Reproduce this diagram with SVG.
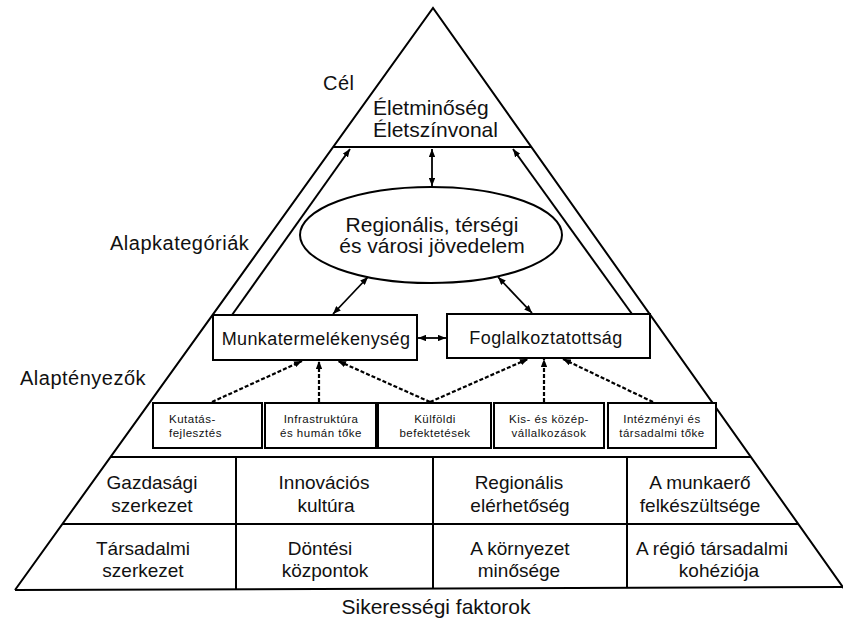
<svg xmlns="http://www.w3.org/2000/svg" width="843" height="621" viewBox="0 0 843 621">
<style>
.ln{fill:none;stroke:#000;stroke-width:2}
.ar{fill:none;stroke:#000;stroke-width:1.8}
.da{fill:none;stroke:#000;stroke-width:2.2;stroke-dasharray:4 2}
.bx{fill:#fff;stroke:#000;stroke-width:2}
text{font-family:"Liberation Sans",Arial,sans-serif;fill:#111}
.lg{font-size:21px}
.lb{font-size:20px;letter-spacing:0.5px}
.md{font-size:18px;letter-spacing:0.4px;text-anchor:middle}
.sm{font-size:11.5px;letter-spacing:0.5px}
.tb{font-size:19px;text-anchor:middle}
.c{text-anchor:middle}
</style>
<defs>
<marker id="ah" viewBox="0 0 10 8" refX="10" refY="4" markerWidth="8" markerHeight="6.4" markerUnits="userSpaceOnUse" orient="auto-start-reverse">
<path d="M0,0 L10,4 L0,8 z" fill="#000"/>
</marker>
</defs>
<g id="pyramid">
<path class="ln" d="M15,590 L433,8 L845,590"/>
<line class="ln" x1="15" y1="590" x2="843" y2="587"/>
<line class="ln" x1="333" y1="147" x2="531" y2="147"/>
<line class="ln" x1="111" y1="457" x2="751" y2="457"/>
<line class="ln" x1="63" y1="524" x2="798" y2="524"/>
<line class="ln" x1="236" y1="457" x2="236" y2="589"/>
<line class="ln" x1="433" y1="457" x2="433" y2="588"/>
<line class="ln" x1="627" y1="457" x2="627" y2="588"/>
</g>
<g id="labels">
<text class="lb" x="323" y="90">Cél</text>
<text class="lb" x="110" y="250">Alapkategóriák</text>
<text class="lb" x="20" y="385">Alaptényezők</text>
<text class="lg c" x="436" y="614">Sikerességi faktorok</text>
</g>
<g id="cel">
<text class="lg" x="373" y="115">Életminőség</text>
<text class="lg" x="373" y="137">Életszínvonal</text>
</g>
<g id="jovedelem">
<ellipse class="bx" cx="431" cy="235" rx="131" ry="48"/>
<text class="lg c" x="432" y="232">Regionális, térségi</text>
<text class="lg c" x="432" y="253">és városi jövedelem</text>
</g>
<g id="munkatermelekenyseg">
<rect class="bx" x="213" y="315" width="204" height="45"/>
<text class="md" x="316" y="345">Munkatermelékenység</text>
</g>
<g id="foglalkoztatottsag">
<rect class="bx" x="447" y="314" width="203" height="44"/>
<text class="md" x="546" y="344">Foglalkoztatottság</text>
</g>
<g id="kutatas">
<rect class="bx" x="153" y="403" width="109" height="45"/>
<text class="sm" x="169" y="423">Kutatás-</text>
<text class="sm" x="169" y="437">fejlesztés</text>
</g>
<g id="infrastruktura">
<rect class="bx" x="265" y="403" width="111" height="45"/>
<text class="sm c" x="321" y="423">Infrastruktúra</text>
<text class="sm c" x="321" y="437">és humán tőke</text>
</g>
<g id="kulfoldi">
<rect class="bx" x="378" y="403" width="113" height="45"/>
<text class="sm c" x="435" y="423">Külföldi</text>
<text class="sm c" x="435" y="437">befektetések</text>
</g>
<g id="kkv">
<rect class="bx" x="494" y="403" width="110" height="45"/>
<text class="sm c" x="549" y="423">Kis- és közép-</text>
<text class="sm c" x="549" y="437">vállalkozások</text>
</g>
<g id="intezmenyi">
<rect class="bx" x="608" y="403" width="108" height="45"/>
<text class="sm c" x="662" y="423">Intézményi és</text>
<text class="sm c" x="662" y="437">társadalmi tőke</text>
</g>
<g id="factors">
<text class="tb" x="152" y="489">Gazdasági</text>
<text class="tb" x="152" y="512">szerkezet</text>
<text class="tb" x="143" y="555">Társadalmi</text>
<text class="tb" x="143" y="577">szerkezet</text>
<text class="tb" x="324" y="489">Innovációs</text>
<text class="tb" x="326" y="512">kultúra</text>
<text class="tb" x="320" y="555">Döntési</text>
<text class="tb" x="325" y="577">központok</text>
<text class="tb" x="519" y="489">Regionális</text>
<text class="tb" x="520" y="512">elérhetőség</text>
<text class="tb" x="520" y="555">A környezet</text>
<text class="tb" x="519" y="577">minősége</text>
<text class="tb" x="700" y="489">A munkaerő</text>
<text class="tb" x="700" y="512">felkészültsége</text>
<text class="tb" x="712" y="555">A régió társadalmi</text>
<text class="tb" x="719" y="577">kohéziója</text>
</g>
<g id="connectors">
<line class="ar" x1="432" y1="149" x2="432" y2="186" marker-start="url(#ah)" marker-end="url(#ah)"/>
<line class="ln" x1="232" y1="315" x2="350" y2="149" marker-end="url(#ah)"/>
<line class="ln" x1="632" y1="314" x2="513" y2="149" marker-end="url(#ah)"/>
<line class="ar" x1="368" y1="277" x2="333" y2="314" marker-start="url(#ah)" marker-end="url(#ah)"/>
<line class="ar" x1="498" y1="277" x2="532" y2="313" marker-start="url(#ah)" marker-end="url(#ah)"/>
<line class="ar" x1="418" y1="338" x2="446" y2="338" marker-start="url(#ah)" marker-end="url(#ah)"/>
<line class="da" x1="212" y1="402" x2="302" y2="361" marker-end="url(#ah)"/>
<line class="da" x1="319" y1="402" x2="319" y2="361" marker-end="url(#ah)"/>
<line class="da" x1="430" y1="402" x2="338" y2="361" marker-end="url(#ah)"/>
<line class="da" x1="430" y1="402" x2="528" y2="359" marker-end="url(#ah)"/>
<line class="da" x1="544" y1="402" x2="544" y2="359" marker-end="url(#ah)"/>
<line class="da" x1="653" y1="402" x2="563" y2="359" marker-end="url(#ah)"/>
</g>
</svg>
